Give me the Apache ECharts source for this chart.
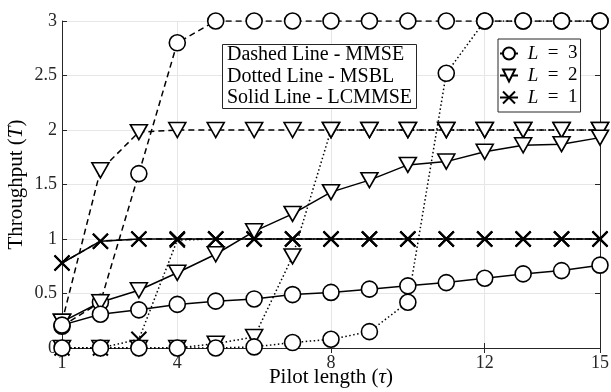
<!DOCTYPE html>
<html><head><meta charset="utf-8">
<script src="https://cdn.jsdelivr.net/npm/echarts@6/dist/echarts.min.js"></script>
<style>html,body{margin:0;padding:0;background:#fff}#c{width:611px;height:392px}</style>
</head><body><div id="c"></div>
<script>
const pilotLength = [1,2,3,4,5,6,7,8,9,10,11,12,13,14,15];
const xTickLabels = [1,4,8,12,15];
const yTickLabels = [0,0.5,1,1.5,2,2.5,3];
// MMSE (dashed)
const mmseL3 = [0.20,0.42,1.60,2.80,3,3,3,3,3,3,3,3,3,3,3];
const mmseL2 = [0.24,1.63,1.98,2,2,2,2,2,2,2,2,2,2,2,2];
const mmseL1 = [0.78,0.98,1,1,1,1,1,1,1,1,1,1,1,1,1];
// MSBL (dotted)
const msblL3 = [0,0,0,0,0,0.01,0.05,0.08,0.15,0.42,2.52,3,3,3,3];
const msblL2 = [0,0,0,0,0.04,0.10,0.84,2,2,2,2,2,2,2,2];
const msblL1 = [0,0,0.08,0.99,1,1,1,1,1,1,1,1,1,1,1];
// LCMMSE (solid)
const lcL3 = [0.21,0.31,0.35,0.40,0.43,0.45,0.49,0.51,0.54,0.57,0.60,0.64,0.68,0.71,0.76];
const lcL2 = [0.24,0.42,0.53,0.69,0.86,1.07,1.23,1.43,1.54,1.68,1.71,1.80,1.86,1.87,1.93];
const lcL1 = [0.78,0.98,1,1,1,1,1,1,1,1,1,1,1,1,1];
const legendNames = ['L3','L2','L1'];
const legendText = {L3:'3', L2:'2', L1:'1'};
const boxLines = ['Dashed Line - MMSE','Dotted Line - MSBL','Solid Line - LCMMSE'];

const FONT = 'Liberation Serif';
const crossPath = 'path://M0,0L10,10M10,0L0,10';
const markers = {
  L3: {symbol:'circle', symbolSize:16, rotate:0},
  L2: {symbol:'triangle', symbolSize:[17,15], rotate:180},
  L1: {symbol:crossPath, symbolSize:15, rotate:0}
};
const dashTypes = {dashed:[6,4], dotted:[1.5,2.5], solid:'solid'};

function mk(name, vals, key, dash) {
  const m = markers[key];
  const isCross = key === 'L1';
  return {
    name: name, type:'line', silent:true,
    data: pilotLength.map((x,i)=>[x, vals[i]]),
    symbol: m.symbol, symbolSize: m.symbolSize, symbolRotate: m.rotate,
    showAllSymbol:true,
    lineStyle:{color:'#000', width:1.5, type: dashTypes[dash]},
    itemStyle:{color: isCross ? 'none' : '#fff', borderColor:'#000', borderWidth: isCross ? 2 : 1.6},
    z: 2
  };
}

const series = [
  mk('mL1', mmseL1, 'L1', 'dashed'),
  mk('mL2', mmseL2, 'L2', 'dashed'),
  mk('mL3', mmseL3, 'L3', 'dashed'),
  mk('sL1', msblL1, 'L1', 'dotted'),
  mk('sL2', msblL2, 'L2', 'dotted'),
  mk('sL3', msblL3, 'L3', 'dotted'),
  mk('cL1', lcL1, 'L1', 'solid'),
  mk('cL2', lcL2, 'L2', 'solid'),
  mk('cL3', lcL3, 'L3', 'solid')
];
legendNames.forEach(k => {
  const m = markers[k];
  series.push({
    name:k, type:'line', data:[], symbol:m.symbol, symbolSize:m.symbolSize, symbolRotate:m.rotate,
    lineStyle:{color:'#000', width:1.5},
    itemStyle:{color: k==='L1' ? 'none' : '#fff', borderColor:'#000', borderWidth: k==='L1'?2:1.6}
  });
});

const chart = echarts.init(document.getElementById('c'), null, {renderer:'canvas'});
const axisLine = {show:true, lineStyle:{color:'#262626', width:1}};
const nameStyle = {fontFamily:FONT, fontSize:21, color:'#000',
  rich:{i:{fontFamily:FONT, fontStyle:'italic', fontSize:21, color:'#000'}}};
chart.setOption({
  animation:false,
  backgroundColor:'#fff',
  title:{
    text: boxLines.join('\n'),
    left:222, top:44, padding:[0,5,0,5],
    borderColor:'#262626', borderWidth:1, backgroundColor:'#fff',
    textStyle:{fontFamily:FONT, fontSize:20, fontWeight:'normal', color:'#000', lineHeight:21.5}
  },
  legend:{
    data: legendNames, orient:'vertical', left:498, top:39,
    padding:[5,3,5,1], itemGap:3, itemWidth:18, itemHeight:15,
    borderColor:'#262626', borderWidth:1, backgroundColor:'#fff',
    formatter: n => ' {i|L}\u2002=\u2002' + legendText[n],
    textStyle:{fontFamily:FONT, fontSize:19, color:'#000',
      rich:{i:{fontFamily:FONT, fontStyle:'italic', fontSize:19, color:'#000'}}}
  },
  grid:{left:62, right:11, top:21, bottom:44, containLabel:false, outerBoundsMode:'none'},
  xAxis:[{
    type:'value', min:1, max:15,
    name:'Pilot length ({i|τ})', nameLocation:'middle', nameGap:19, nameMoveOverlap:false,
    nameTextStyle: nameStyle,
    axisLine: axisLine,
    axisTick:{show:true, inside:true, length:5, customValues:xTickLabels, lineStyle:{color:'#262626'}},
    axisLabel:{customValues:xTickLabels, fontFamily:FONT, fontSize:18, color:'#262626', margin:6},
    splitLine:{show:true, lineStyle:{color:'#e6e6e6', width:1}}
  },{
    type:'value', min:1, max:15, position:'top',
    axisLine: axisLine,
    axisTick:{show:true, inside:true, length:5, customValues:xTickLabels, lineStyle:{color:'#262626'}},
    axisLabel:{show:false, customValues:xTickLabels}, splitLine:{show:false}
  }],
  yAxis:[{
    type:'value', min:0, max:3, interval:0.5,
    name:'Throughput ({i|T})', nameLocation:'middle', nameGap:35, nameMoveOverlap:false,
    nameTextStyle: nameStyle,
    axisLine: axisLine,
    axisTick:{show:true, inside:true, length:5, lineStyle:{color:'#262626'}},
    axisLabel:{fontFamily:FONT, fontSize:18, color:'#262626', margin:5,
      formatter: v => yTickLabels.includes(v) ? String(v) : ''},
    splitLine:{show:true, lineStyle:{color:'#e6e6e6', width:1}}
  },{
    type:'value', min:0, max:3, interval:0.5, position:'right',
    axisLine: axisLine,
    axisTick:{show:true, inside:true, length:5, lineStyle:{color:'#262626'}},
    axisLabel:{show:false}, splitLine:{show:false}
  }],
  series: series
});
</script></body></html>
